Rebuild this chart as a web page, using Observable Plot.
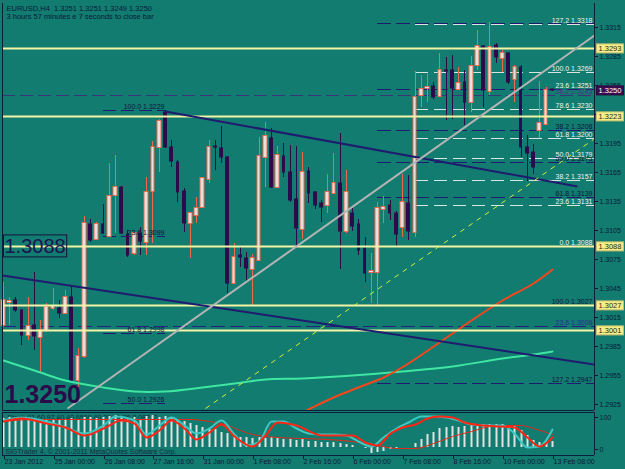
<!DOCTYPE html>
<html><head><meta charset="utf-8">
<script src="https://cdn.jsdelivr.net/npm/d3@7"></script>
<script src="https://cdn.jsdelivr.net/npm/@observablehq/plot@0.6"></script>
<style>
html,body{margin:0;padding:0;background:#117c6f;}
#chart{position:relative;width:625px;height:469px;overflow:hidden;background:#117c6f;}
#chart svg{position:absolute;left:0;}
</style></head><body><div id="chart"></div>
<script>
// ---------- DATA ----------
const titleLine = "EURUSD,H4  1.3251 1.3251 1.3249 1.3250";
const subTitleLine = "3 hours 57 minutes e 7 seconds to close bar";
const dateBars = [0, 8, 16, 24, 32, 40, 48, 56, 64, 72, 80, 88];
const dateLabels = ["23 Jan 2012", "25 Jan 00:00", "26 Jan 08:00", "27 Jan 16:00", "31 Jan 00:00", "1 Feb 08:00", "2 Feb 16:00", "6 Feb 00:00", "7 Feb 08:00", "8 Feb 16:00", "10 Feb 00:00", "13 Feb 08:00"];
const yTicks = [1.3315, 1.3285, 1.3255, 1.3225, 1.3195, 1.3165, 1.3135, 1.3105, 1.3075, 1.3045, 1.3015, 1.2985, 1.2955, 1.2925];

const opens  = [1.3007,1.3030,1.3033,1.3022,1.2996,1.3007,1.2994,1.3002,1.3024,1.3024,1.3019,1.3036,1.2950,1.2975,1.3111,1.3096,1.3111,1.3099,1.3141,1.3149,1.3101,1.3081,1.3102,1.3093,1.3145,1.3191,1.3227,1.3191,1.3175,1.3145,1.3112,1.3120,1.3129,1.3158,1.3192,1.3190,1.3181,1.3050,1.3079,1.3076,1.3065,1.3074,1.3181,1.3200,1.3149,1.3182,1.3165,1.3137,1.3106,1.3166,1.3144,1.3133,1.3131,1.3143,1.3154,1.3104,1.3123,1.3111,1.3086,1.3062,1.3062,1.3127,1.3131,1.3123,1.3108,1.3133,1.3103,1.3245,1.3252,1.3254,1.3244,1.3271,1.3271,1.3251,1.3258,1.3237,1.3276,1.3295,1.3249,1.3296,1.3283,1.3288,1.3261,1.3274,1.3191,1.3186,1.3208,1.3215,1.3251];
const highs  = [1.3051,1.3036,1.3036,1.3023,1.3036,1.3062,1.3012,1.3029,1.3045,1.3033,1.3043,1.3048,1.2983,1.3119,1.3116,1.3113,1.3132,1.3174,1.3183,1.3150,1.3105,1.3103,1.3108,1.3160,1.3197,1.3220,1.3229,1.3198,1.3177,1.3148,1.3124,1.3139,1.3159,1.3198,1.3198,1.3213,1.3182,1.3092,1.3087,1.3082,1.3080,1.3201,1.3217,1.3211,1.3192,1.3195,1.3193,1.3192,1.3186,1.3170,1.3145,1.3136,1.3163,1.3185,1.3205,1.3167,1.3128,1.3116,1.3098,1.3081,1.3134,1.3140,1.3136,1.3125,1.3163,1.3162,1.3270,1.3265,1.3266,1.3258,1.3288,1.3284,1.3286,1.3274,1.3271,1.3285,1.3312,1.3296,1.3320,1.3298,1.3291,1.3289,1.3276,1.3276,1.3203,1.3194,1.3259,1.3253,1.3251];
const lows   = [1.3005,1.3007,1.3020,1.2986,1.2991,1.2981,1.2958,1.2999,1.3022,1.3014,1.3019,1.2948,1.2942,1.2972,1.3093,1.3095,1.3101,1.3098,1.3102,1.3101,1.3077,1.3079,1.3079,1.3079,1.3092,1.3165,1.3190,1.3170,1.3134,1.3103,1.3076,1.3112,1.3128,1.3154,1.3167,1.3174,1.3040,1.3049,1.3067,1.3052,1.3027,1.3073,1.3149,1.3148,1.3148,1.3160,1.3134,1.3088,1.3096,1.3133,1.3127,1.3113,1.3123,1.3142,1.3065,1.3102,1.3104,1.3079,1.3051,1.3029,1.3027,1.3112,1.3115,1.3088,1.3098,1.3095,1.3098,1.3232,1.3237,1.3241,1.3243,1.3219,1.3220,1.3250,1.3214,1.3227,1.3271,1.3232,1.3245,1.3278,1.3269,1.3256,1.3237,1.3181,1.3156,1.3163,1.3200,1.3214,1.3249];
const closes = [1.3033,1.3031,1.3022,1.2996,1.3006,1.2995,1.3002,1.3025,1.3026,1.3019,1.3036,1.2950,1.2975,1.3112,1.3095,1.3111,1.3102,1.3140,1.3149,1.3102,1.3079,1.3102,1.3094,1.3144,1.3191,1.3218,1.3191,1.3176,1.3144,1.3112,1.3123,1.3128,1.3159,1.3191,1.3191,1.3181,1.3050,1.3077,1.3077,1.3066,1.3076,1.3182,1.3202,1.3149,1.3183,1.3165,1.3136,1.3107,1.3165,1.3143,1.3131,1.3129,1.3144,1.3154,1.3104,1.3144,1.3109,1.3084,1.3060,1.3063,1.3128,1.3129,1.3123,1.3101,1.3134,1.3104,1.3243,1.3251,1.3253,1.3243,1.3271,1.3270,1.3252,1.3257,1.3237,1.3275,1.3295,1.3250,1.3294,1.3284,1.3288,1.3258,1.3274,1.3191,1.3185,1.3170,1.3216,1.3250,1.3250];

const yellowLevels = [1.3293, 1.3223, 1.3088, 1.3027, 1.3001];
const bidPrice = 1.3250;
const navyFibStart = 60, whiteFibStart = 66;
const navyFibLevels = [1.3319, 1.3251, 1.3208, 1.3175, 1.3139, 1.3088, 1.2947];
const whiteFibLevels = [1.3318, 1.3269, 1.3230, 1.3200, 1.3179, 1.3157, 1.3131];
const lightFibLabels = ["127.2 1.3318", "100.0 1.3269", "23.6 1.3251", "78.6 1.3230", "61.8 1.3200", "50.0 1.3179", "38.2 1.3157", "23.6 1.3131", "0.0 1.3088"];
const lightFibPrices = [1.3318, 1.3269, 1.3251, 1.3230, 1.3200, 1.3179, 1.3157, 1.3131, 1.3088];
const darkFibLabels = ["50.0 1.3175", "38.2 1.3208", "61.8 1.3139", "100.0 1.3027", "127.2 1.2947"];
const darkFibPrices = [1.3175, 1.3208, 1.3139, 1.3027, 1.2947];
const blueFibLabel = "23.6 1.3006", blueFibPrice = 1.3006;
const purpleFibLabel = "38.2 1.3245", purpleFibPrice = 1.3245;
const leftFibStart = 16, leftFibEnd = 26;
const leftFibLabels = ["100.0 1.3229", "23.6 1.3099", "61.8 1.2998", "50.0 1.2926"];
const leftFibPrices = [1.3229, 1.3099, 1.2998, 1.2926];
const leftBoxPrice = 1.3088;

// trendlines: [bar1, price1, bar2, price2]
const grayTrend = [10.3, 1.2921, 94.7, 1.3307];
const navyUpper = [26.0, 1.3228, 92.0, 1.3151];
const navyLower = [-0.11, 1.3058, 94.76, 1.2966];
const yellowTrend = [32.4, 1.2921, 94.6, 1.3199];

const redMABars = [46, 49, 53, 57, 61, 65, 70, 75, 80, 85, 88];
const redMAVals = [1.2910, 1.2920, 1.2932, 1.2943, 1.2953, 1.2967, 1.2989, 1.3012, 1.3033, 1.3050, 1.3065];
const greenMABars = [0, 5, 10, 16, 21, 26, 32, 37, 42, 48, 56, 64, 72, 80, 85, 88];
const greenMAVals = [1.2970, 1.2960, 1.2950, 1.2943, 1.2938, 1.2938, 1.2943, 1.2947, 1.2951, 1.2952, 1.2955, 1.2959, 1.2964, 1.2973, 1.2977, 1.2980];

// sub window
const histVals = [90,95,90,88,88,84,88,84,88,84,88,90,84,95,95,90,93,97,100,93,90,95,88,97,100,95,97,93,88,80,74,69,63,58,55,48,43,35,32,30,27,30,27,30,27,24,24,22,24,20,20,17,17,17,11,9,6,1,-4,-18,-15,-12,-7,-4,1,1,13,24,41,48,58,63,67,63,67,72,72,72,72,72,72,69,66,53,38,22,17,17,20];
const stochBars = [0,3,7,10,13,16,19,21,23,25,27,29,31,33,35,37,40,42,44,47,51,56,58,60,62,64,66,68,70,72,74,77,80,82,84,86,88];
const stochVals = [81,91,75,63,38,59,84,75,31,53,84,59,25,47,72,34,3,38,78,69,38,38,16,6,44,63,72,91,97,94,78,69,66,63,31,3,31];
const cyanBars = [0,3,7,10,13,16,18,21,23,25,27,29,31,33,35,37,39,41,43,45,47,49,51,53,55,57,59,61,63,65,67,69,71,73,75,78,80,82,84,86,88];
const cyanVals = [85,95,80,62,45,70,97,85,40,70,95,70,45,60,85,40,5,20,80,80,60,45,40,40,38,20,2,30,58,78,97,97,94,84,72,68,68,45,0,2,57];
const signalBars = [0,5,10,15,20,25,30,33,35,38,40,44,48,52,56,60,63,66,69,72,75,78,80,83,85,88];
const signalVals = [82,86,86,86,88,88,86,82,75,52,40,31,28,26,18,5,-3,-4,12,34,51,65,69,68,58,41];
const subLevels = [0, 100];
const subHeader = "Stoch 91.60 97.40 40.6509 40.26 13.26 0.08222";
const copyright = "SIGTrader 4, © 2001-2011 MetaQuotes Software Corp.";

// ---------- STYLE ----------
const FONT = '"Liberation Sans", Arial, sans-serif';
const TXT = "#0b1a3a";
const NAVY = "#1f1b6e";
const DARKC = "#2b0b4b";
const UPC = "#ee6a4c";
const YBOX_TXT = "#2a2a10", PBOX_TXT = "#fffffe", LBOX_TXT = "#1c1450";
const X_DOMAIN = [-0.11, 94.76];

const bars = opens.map((o, i) => ({i, o, h: highs[i], l: lows[i], c: closes[i]}));
const up = bars.filter(d => d.c >= d.o);
const dn = bars.filter(d => d.c < d.o);
const series = (bs, vs) => bs.map((b, k) => ({b, v: vs[k]}));
const seg = a => [{x1: a[0], y1: a[1], x2: a[2], y2: a[3]}];
const labelled = (ls, ps) => ls.map((t, k) => ({t, p: ps[k]}));
// tick labels fully hidden under a boxed level label are left blank
const boxed = yellowLevels.concat([bidPrice]);
const tickFmt = d => boxed.some(b => Math.abs(b - d) < 0.0003) ? "" : d.toFixed(4);

const main = Plot.plot({
  width: 625, height: 411,
  marginLeft: 2, marginRight: 31, marginTop: 3, marginBottom: 1,
  x: {domain: X_DOMAIN, axis: null, round: true},
  y: {domain: [1.29187, 1.33399], round: true, axis: null},
  style: {background: "transparent", color: TXT, fontFamily: FONT, overflow: "visible"},
  marks: [
    Plot.ruleY(navyFibLevels, {y: d => d, x1: navyFibStart, x2: X_DOMAIN[1], stroke: NAVY, strokeDasharray: "14,5"}),
    Plot.ruleY(whiteFibLevels, {y: d => d, x1: whiteFibStart, x2: X_DOMAIN[1], stroke: "#d6e6e2", strokeDasharray: "13,6"}),
    Plot.ruleY([blueFibPrice], {y: d => d, stroke: "#26237e", strokeDasharray: "14,5"}),
    Plot.ruleY([purpleFibPrice], {y: d => d, stroke: "#3a3478", strokeDasharray: "13,5"}),
    Plot.ruleY(leftFibPrices, {y: d => d, x1: leftFibStart, x2: leftFibEnd, stroke: NAVY, strokeDasharray: "13,5"}),
    // candles
    Plot.ruleX(up, {x: "i", y1: "l", y2: "h", stroke: UPC}),
    Plot.ruleX(dn, {x: "i", y1: "l", y2: "h", stroke: DARKC}),
    Plot.rect(up, {x1: d => d.i - 0.3, x2: d => d.i + 0.3, y1: "o", y2: "c", fill: "#e8e0de", stroke: UPC, insetTop: -0.5, insetBottom: -0.5}),
    Plot.rect(dn, {x1: d => d.i - 0.3, x2: d => d.i + 0.3, y1: "o", y2: "c", fill: DARKC, insetTop: -0.5, insetBottom: -0.5}),
    // moving averages
    Plot.line(series(greenMABars, greenMAVals), {x: "b", y: "v", stroke: "#3fe6a2", strokeWidth: 2, curve: "catmull-rom", clip: true}),
    Plot.line(series(redMABars, redMAVals), {x: "b", y: "v", stroke: "#f5461c", strokeWidth: 2, curve: "catmull-rom", clip: true}),
    // horizontal yellow levels
    Plot.ruleY(yellowLevels, {y: d => d, stroke: "#f4f4a6", strokeWidth: 2}),
    // trendlines
    Plot.link(seg(navyUpper), {x1: "x1", y1: "y1", x2: "x2", y2: "y2", stroke: NAVY, strokeWidth: 2, clip: true}),
    Plot.link(seg(navyLower), {x1: "x1", y1: "y1", x2: "x2", y2: "y2", stroke: NAVY, strokeWidth: 2, clip: true}),
    Plot.link(seg(grayTrend), {x1: "x1", y1: "y1", x2: "x2", y2: "y2", stroke: "#b4b4b4", strokeWidth: 2, clip: true}),
    Plot.link(seg(yellowTrend), {x1: "x1", y1: "y1", x2: "x2", y2: "y2", stroke: "#d4ee3a", strokeWidth: 1, strokeDasharray: "5,5", clip: true}),
    // fib labels
    Plot.text(labelled(darkFibLabels, darkFibPrices), {y: "p", text: "t", frameAnchor: "right", textAnchor: "end", lineAnchor: "bottom", dx: -2, dy: -2, fontSize: 7, fill: "#14143e"}),
    Plot.text(labelled(lightFibLabels, lightFibPrices), {y: "p", text: "t", frameAnchor: "right", textAnchor: "end", lineAnchor: "bottom", dx: -2, dy: -2, fontSize: 7, fill: "#eef4f2"}),
    Plot.text([{t: blueFibLabel, p: blueFibPrice}], {y: "p", text: "t", frameAnchor: "right", textAnchor: "end", lineAnchor: "bottom", dx: -2, dy: -2, fontSize: 7, fill: "#2c2c9c"}),
    Plot.text([{t: purpleFibLabel, p: purpleFibPrice}], {y: "p", text: "t", frameAnchor: "right", textAnchor: "end", lineAnchor: "bottom", dx: -2, dy: -2, fontSize: 7, fill: "#5a2c8c"}),
    Plot.text(labelled(leftFibLabels, leftFibPrices), {x: () => leftFibEnd, y: "p", text: "t", textAnchor: "end", lineAnchor: "bottom", dx: -1, dy: -2, fontSize: 7, fill: "#14143e"}),
    // big labels
    Plot.text([leftBoxPrice], {y: d => d, text: d => d.toFixed(4), frameAnchor: "left", textAnchor: "start", lineAnchor: "middle", dx: 2, fontSize: 20, fill: LBOX_TXT}),
    Plot.text([closes[closes.length - 1]], {text: d => d.toFixed(4), frameAnchor: "bottom-left", textAnchor: "start", lineAnchor: "middle", dx: 2, dy: -16, fontSize: 25, fontWeight: "bold", fill: "#2a0a48"}),
    Plot.text([titleLine], {text: d => d, frameAnchor: "top-left", textAnchor: "start", lineAnchor: "middle", dx: 4, dy: 5, fontSize: 7.5, fill: TXT}),
    Plot.text([subTitleLine], {text: d => d, frameAnchor: "top-left", textAnchor: "start", lineAnchor: "middle", dx: 4, dy: 13, fontSize: 7.5, fill: TXT}),
    // axis
    Plot.axisY(yTicks, {anchor: "right", tickSize: 3, tickPadding: 2, fontSize: 7, tickFormat: tickFmt, label: null}),
    Plot.text(yellowLevels, {y: d => d, text: d => d.toFixed(4), frameAnchor: "right", textAnchor: "start", lineAnchor: "middle", dx: 4, fontSize: 7.5, fill: YBOX_TXT}),
    Plot.text([bidPrice], {y: d => d, text: d => d.toFixed(4), frameAnchor: "right", textAnchor: "start", lineAnchor: "middle", dx: 4, fontSize: 7.5, fill: PBOX_TXT}),
    // frame edges
    Plot.ruleX(X_DOMAIN, {stroke: "#0b1f3a"}),
    Plot.ruleY([1.29187], {stroke: "#0b1f3a"})
  ]
});

const sub = Plot.plot({
  width: 625, height: 58,
  marginLeft: 2, marginRight: 31, marginTop: 1, marginBottom: 14,
  x: {domain: X_DOMAIN, round: true, label: null},
  y: {domain: [-25, 109.4], round: true, label: null},
  style: {background: "transparent", color: TXT, fontFamily: FONT, overflow: "visible"},
  marks: [
    Plot.text([subHeader], {text: d => d, frameAnchor: "top-left", textAnchor: "start", lineAnchor: "middle", dx: 5, dy: 5, fontSize: 7, fill: "#1a2a44"}),
    Plot.ruleX(histVals, {x: (d, i) => i, y1: 0, y2: d => d, stroke: "#e2e2e2", strokeWidth: 2}),
    Plot.line(series(signalBars, signalVals), {x: "b", y: "v", stroke: "#e42a1a", strokeWidth: 1, curve: "monotone-x"}),
    Plot.line(series(cyanBars, cyanVals), {x: "b", y: "v", stroke: "#3ec8c2", strokeWidth: 2, curve: "monotone-x"}),
    Plot.line(series(stochBars, stochVals), {x: "b", y: "v", stroke: "#ff2616", strokeWidth: 2, curve: "monotone-x"}),
    Plot.text([copyright], {text: d => d, frameAnchor: "bottom-left", textAnchor: "start", lineAnchor: "middle", dx: 3, dy: -4, fontSize: 7, fill: "#1a2a44"}),
    Plot.axisX(dateBars, {anchor: "bottom", tickSize: 4, tickPadding: 0, fontSize: 7, textAnchor: "start", dx: 1, label: null, tickFormat: d => dateLabels[dateBars.indexOf(d)]}),
    Plot.axisY(subLevels, {anchor: "right", tickSize: 3, tickPadding: 2, fontSize: 7, dy: 2, label: null}),
    Plot.ruleX(X_DOMAIN, {stroke: "#0b1f3a"}),
    Plot.ruleY([-25, 109.4], {stroke: "#0b1f3a"})
  ]
});

const host = document.getElementById("chart");
main.style.top = "0px";
sub.style.top = "411px";
host.appendChild(main);
host.appendChild(sub);

// draw a box behind every text of the mark whose text colour is `textFill`
function addBoxes(svg, textFill, fill, stroke, padX, padY) {
  const texts = Array.from(svg.querySelectorAll("text")).filter(t => {
    const g = t.closest("[fill]");
    return g && g.getAttribute("fill") === textFill;
  });
  texts.forEach(node => {
    const b = node.getBBox();
    const r = document.createElementNS("http://www.w3.org/2000/svg", "rect");
    r.setAttribute("x", b.x - padX);
    r.setAttribute("y", b.y - padY);
    r.setAttribute("width", b.width + 2 * padX);
    r.setAttribute("height", b.height + 2 * padY);
    r.setAttribute("fill", fill);
    r.setAttribute("stroke", stroke || "none");
    const t = node.getAttribute("transform");
    if (t) r.setAttribute("transform", t);
    node.parentNode.insertBefore(r, node);
  });
}
addBoxes(main, YBOX_TXT, "#f6ee86", "#c8c070", 2, 0);
addBoxes(main, PBOX_TXT, "#3c0c52", "#2a0840", 2, 0);
addBoxes(main, LBOX_TXT, "none", "#14143e", 1, 0);
</script></body></html>
